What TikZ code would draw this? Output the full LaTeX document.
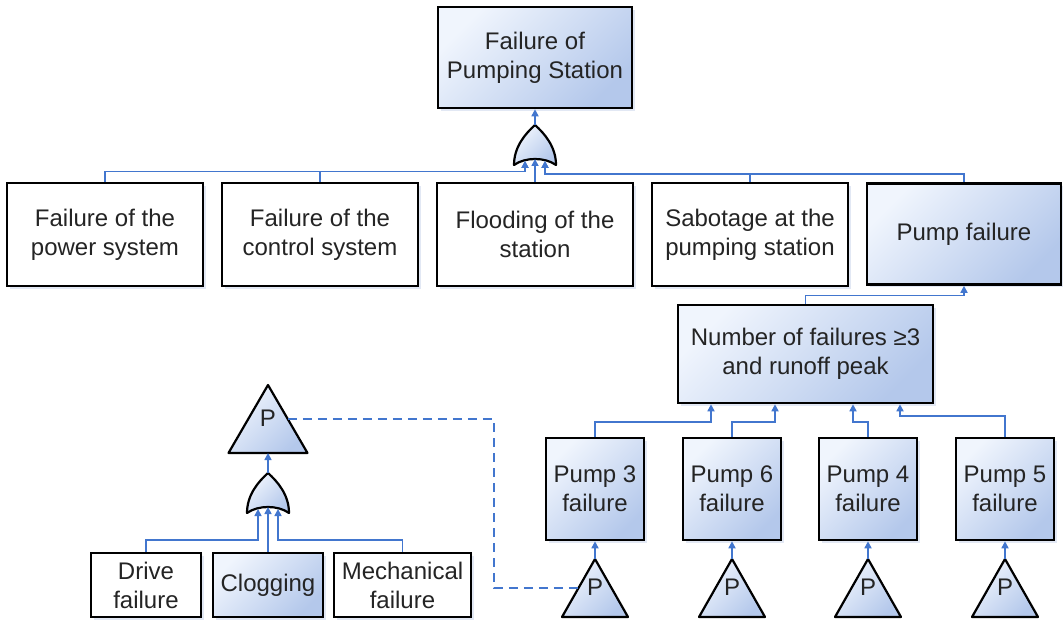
\documentclass[tikz,border=0pt]{standalone}
\usepackage{fontspec}
\setmainfont{Liberation Sans}
\usetikzlibrary{arrows.meta,shadows,calc}
\definecolor{bluA}{RGB}{240,245,253}
\definecolor{bluB}{RGB}{180,200,235}
\definecolor{connc}{RGB}{66,118,206}
\definecolor{shc}{RGB}{208,218,238}
\definecolor{txt}{RGB}{36,36,36}
\tikzset{
  nodebox/.style={draw=black, line width=2.6pt, inner sep=0pt, align=center,
    font=\fontsize{24}{29}\selectfont, text=txt,
    drop shadow={shadow xshift=3pt,shadow yshift=-3pt,fill=shc,opacity=0.6}},
  whitebox/.style={nodebox, fill=white},
  bluebox/.style={nodebox, top color=bluA, bottom color=bluB, shading angle=45},
  gatestyle/.style={draw=black, line width=2.2pt, line join=round, top color=bluA, bottom color=bluB, shading angle=45},
  tristyle/.style={draw=black, line width=2.2pt, line join=round, top color=bluA, bottom color=bluB, shading angle=45},
  ptext/.style={inner sep=0pt, font=\fontsize{24}{29}\selectfont, text=txt},
  cn/.style={draw=connc, line width=1.6pt},
  arr/.style={cn, -{Triangle[length=7pt,width=7pt]}},
  dashcn/.style={draw=connc, line width=1.6pt, dash pattern=on 9pt off 6pt}
}
\newcommand\orgate[3]{%
  \path[gatestyle] ({#2-21},{#3+40}) .. controls ({#2-21},{#3+22}) and ({#2-10},{#3+9}) .. (#2,#3)
    .. controls ({#2+10},{#3+9}) and ({#2+21},{#3+22}) .. ({#2+21},{#3+40})
    .. controls ({#2+10},{#3+32}) and ({#2-10},{#3+32}) .. cycle;
  \coordinate (#1-top) at (#2,#3);
  \coordinate (#1-inL) at ({#2-10},{#3+36});
  \coordinate (#1-inM) at (#2,{#3+34});
  \coordinate (#1-inR) at ({#2+10},{#3+36});
}
\newcommand\ptri[5]{%
  \path[tristyle] (#2,#3) -- ({#2+#4},{#3+#5}) -- ({#2-#4},{#3+#5}) -- cycle;
  \coordinate (#1-top) at (#2,#3);
  \coordinate (#1-base) at (#2,{#3+#5});
  \coordinate (#1-l) at ({#2-0.5*#4},{#3+0.5*#5});
  \coordinate (#1-r) at ({#2+0.5*#4},{#3+0.5*#5});
  \node[ptext] (#1) at (#2,{#3+0.49*#5}) {P};
}
\begin{document}
\begin{tikzpicture}[x=1pt,y=-1pt]
\fill[white] (0,0) rectangle (1063,620);
\useasboundingbox (0,0) rectangle (1063,620);

% top event
\node[bluebox, minimum width=194pt, minimum height=101pt] (top) at (535,57.5) {Failure of\\Pumping Station};
\orgate{g1}{535}{125}

% level 2
\node[whitebox, minimum width=196pt, minimum height=103pt] (b1) at (105,234.5) {Failure of the\\power system};
\node[whitebox, minimum width=196pt, minimum height=103pt] (b2) at (320,234.5) {Failure of the\\control system};
\node[whitebox, minimum width=196pt, minimum height=103pt] (b3) at (535,234.5) {Flooding of the\\station};
\node[whitebox, minimum width=196pt, minimum height=103pt] (b4) at (750,234.5) {Sabotage at the\\pumping station};
\node[bluebox, minimum width=194pt, minimum height=101pt] (b5) at (964,234) {Pump failure};

\draw[arr] (g1-top) -- (top.south);
\draw[arr] (b1.north) -- ++(0,-10) -| (g1-inL);
\draw[arr] (b2.north) -- ++(0,-10) -| (g1-inL);
\draw[arr] (b3.north) -- (g1-inM);
\draw[arr] (b4.north) -- ++(0,-8) -| (g1-inR);
\draw[arr] (b5.north) -- ++(0,-8) -| (g1-inR);

% number of failures
\node[bluebox, minimum width=255pt, minimum height=98pt] (num) at (805.5,354) {Number of failures ≥3\\and runoff peak};
\draw[arr] (num.north) -- ++(0,-8) -| (b5.south);

% pumps
\node[bluebox, minimum width=98pt, minimum height=102pt] (p3) at (595,489) {Pump 3\\failure};
\node[bluebox, minimum width=98pt, minimum height=102pt] (p6) at (732,489) {Pump 6\\failure};
\node[bluebox, minimum width=98pt, minimum height=102pt] (p4) at (868,489) {Pump 4\\failure};
\node[bluebox, minimum width=98pt, minimum height=102pt] (p5) at (1005,489) {Pump 5\\failure};

\draw[arr] (p3.north) -- ++(0,-15) -| ([xshift=-94.5pt]num.south);
\draw[arr] (p6.north) -- ++(0,-15) -| ([xshift=-30.5pt]num.south);
\draw[arr] (p4.north) -- ++(0,-15) -| ([xshift=47.5pt]num.south);
\draw[arr] (p5.north) -- ++(0,-21) -| ([xshift=94.5pt]num.south);

% transfer triangles under pumps
\ptri{t3}{595}{559}{33}{58}
\ptri{t6}{732}{559}{33}{58}
\ptri{t4}{868}{559}{33}{58}
\ptri{t5}{1005}{559}{33}{58}
\draw[arr] (t3-top) -- (p3.south);
\draw[arr] (t6-top) -- (p6.south);
\draw[arr] (t4-top) -- (p4.south);
\draw[arr] (t5-top) -- (p5.south);

% pump subtree
\ptri{tp}{268}{385}{39.5}{68}
\orgate{g2}{268}{473}
\draw[arr] (g2-top) -- (tp-base);

\node[whitebox, minimum width=110pt, minimum height=64pt] (drive) at (146,585) {Drive\\failure};
\node[bluebox, minimum width=110pt, minimum height=64pt] (clog) at (268,585) {Clogging};
\node[whitebox, minimum width=137pt, minimum height=64pt] (mech) at (402.5,585) {Mechanical\\failure};

\draw[arr] (drive.north) -- ++(0,-12) -| (g2-inL);
\draw[arr] (clog.north) -- (g2-inM);
\draw[arr] (mech.north) -- ++(0,-12) -| (g2-inR);

% transfer link
\draw[dashcn] (tp-r) -- ++(206,0) |- (t3-l);
\end{tikzpicture}
\end{document}
